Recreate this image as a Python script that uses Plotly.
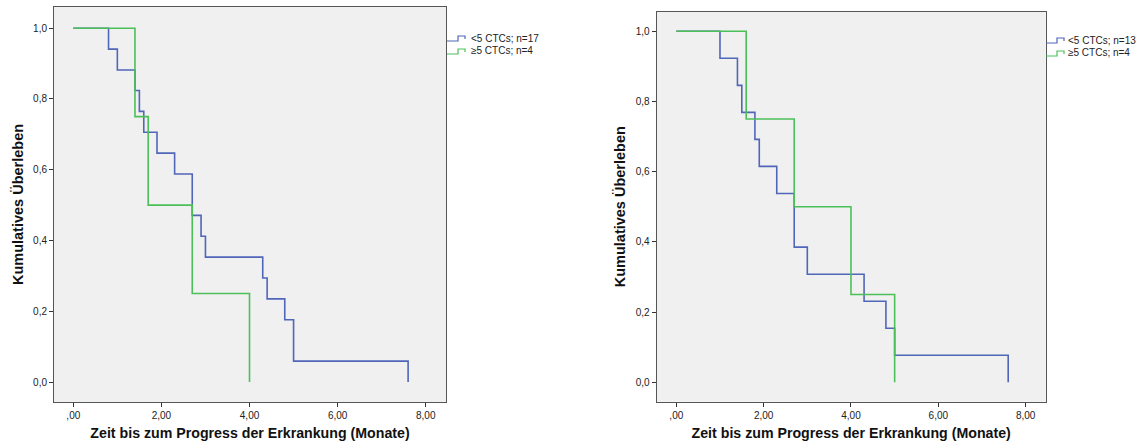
import plotly.graph_objects as go

W, H = 1139, 448

# ---------------- data ----------------
# Left panel
left_blue_t = [0, 0.8, 1.0, 1.4, 1.5, 1.6, 1.9, 2.3, 2.7, 2.9, 3.0, 4.3, 4.4, 4.8, 5.0, 7.6]
left_blue_s = [1.0, 0.941, 0.882, 0.824, 0.765, 0.706, 0.647, 0.588, 0.471, 0.412, 0.353, 0.294, 0.235, 0.176, 0.059, 0.0]
left_green_t = [0, 1.4, 1.7, 2.7, 4.0]
left_green_s = [1.0, 0.75, 0.5, 0.25, 0.0]

# Right panel
right_blue_t = [0, 1.0, 1.4, 1.5, 1.8, 1.9, 2.3, 2.7, 3.0, 4.3, 4.8, 5.0, 7.6]
right_blue_s = [1.0, 0.923, 0.846, 0.769, 0.692, 0.615, 0.538, 0.385, 0.308, 0.231, 0.154, 0.077, 0.0]
right_green_t = [0, 1.6, 2.7, 4.0, 5.0]
right_green_s = [1.0, 0.75, 0.5, 0.25, 0.0]

left_names = ["<5 CTCs; n=17", "≥5 CTCs; n=4"]
right_names = ["<5 CTCs; n=13", "≥5 CTCs; n=4"]

x_tickvals = [0, 2, 4, 6, 8]
x_ticktext = [",00", "2,00", "4,00", "6,00", "8,00"]
y_tickvals = [0, 0.2, 0.4, 0.6, 0.8, 1.0]
y_ticktext = ["0,0", "0,2", "0,4", "0,6", "0,8", "1,0"]

x_title = "Zeit bis zum Progress der Erkrankung (Monate)"
y_title = "Kumulatives Überleben"

BLUE = "#5066b8"
GREEN = "#4cc058"
FONT = "Liberation Sans, Arial, sans-serif"

fig = go.Figure()

def px(x):
    return x / W

def py(y):
    return 1 - y / H

for t, s, c, n in [(left_blue_t, left_blue_s, BLUE, left_names[0]),
                   (left_green_t, left_green_s, GREEN, left_names[1])]:
    fig.add_trace(go.Scatter(x=t, y=s, mode="lines", line=dict(color=c, width=1.6, shape="hv"),
                             name=n, xaxis="x", yaxis="y", showlegend=False))
for t, s, c, n in [(right_blue_t, right_blue_s, BLUE, right_names[0]),
                   (right_green_t, right_green_s, GREEN, right_names[1])]:
    fig.add_trace(go.Scatter(x=t, y=s, mode="lines", line=dict(color=c, width=1.6, shape="hv"),
                             name=n, xaxis="x2", yaxis="y2", showlegend=False))

axis_common = dict(showline=True, linecolor="#555555", linewidth=1, mirror=True,
                   ticks="outside", ticklen=4, tickcolor="#333333", showgrid=False,
                   zeroline=False, tickfont=dict(family=FONT, size=10, color="#222222"))

xtitle_font = dict(family=FONT, size=14.2, color="#111111")
ytitle_font = dict(family=FONT, size=14.5, color="#111111")

fig.update_layout(
    width=W, height=H,
    margin=dict(l=0, r=0, t=0, b=0),
    paper_bgcolor="white",
    plot_bgcolor="#f0f0f0",
    xaxis=dict(domain=[px(54), px(446)], range=[-0.438, 8.46], anchor="y",
               tickvals=x_tickvals, ticktext=x_ticktext,
               title=dict(text="<b>" + x_title + "</b>", font=xtitle_font, standoff=8),
               **axis_common),
    yaxis=dict(domain=[py(402), py(7)], range=[-0.0565, 1.06], anchor="x",
               tickvals=y_tickvals, ticktext=y_ticktext,
               title=dict(text="<b>" + y_title + "</b>", font=ytitle_font, standoff=6),
               **axis_common),
    xaxis2=dict(domain=[px(656.7), px(1045.7)], range=[-0.449, 8.459], anchor="y2",
                tickvals=x_tickvals, ticktext=x_ticktext,
                title=dict(text="<b>" + x_title + "</b>", font=xtitle_font, standoff=8),
                **axis_common),
    yaxis2=dict(domain=[py(401.7), py(11.7)], range=[-0.0553, 1.0558], anchor="x2",
                tickvals=y_tickvals, ticktext=y_ticktext,
                title=dict(text="<b>" + y_title + "</b>", font=ytitle_font, standoff=6),
                **axis_common),
)

# custom legends with step-shaped icons
def add_legend(x0, y0, names, colors, text_x):
    for i, (n, c) in enumerate(zip(names, colors)):
        yc = y0 + i * 13
        path = (f"M {px(x0)},{py(yc + 3)} L {px(x0 + 11)},{py(yc + 3)} L {px(x0 + 11)},{py(yc - 2)} "
                f"L {px(x0 + 18)},{py(yc - 2)} L {px(x0 + 18)},{py(yc + 1)}")
        fig.add_shape(type="path", path=path, xref="paper", yref="paper",
                      line=dict(color=c, width=1.2))
        fig.add_annotation(x=px(text_x), y=py(yc), xref="paper", yref="paper",
                           text=n, showarrow=False, xanchor="left", yanchor="middle",
                           font=dict(family=FONT, size=10, color="#222222"))

add_legend(447, 38, left_names, [BLUE, GREEN], 469)
add_legend(1046, 40, right_names, [BLUE, GREEN], 1066)

fig.write_html("out.html")
